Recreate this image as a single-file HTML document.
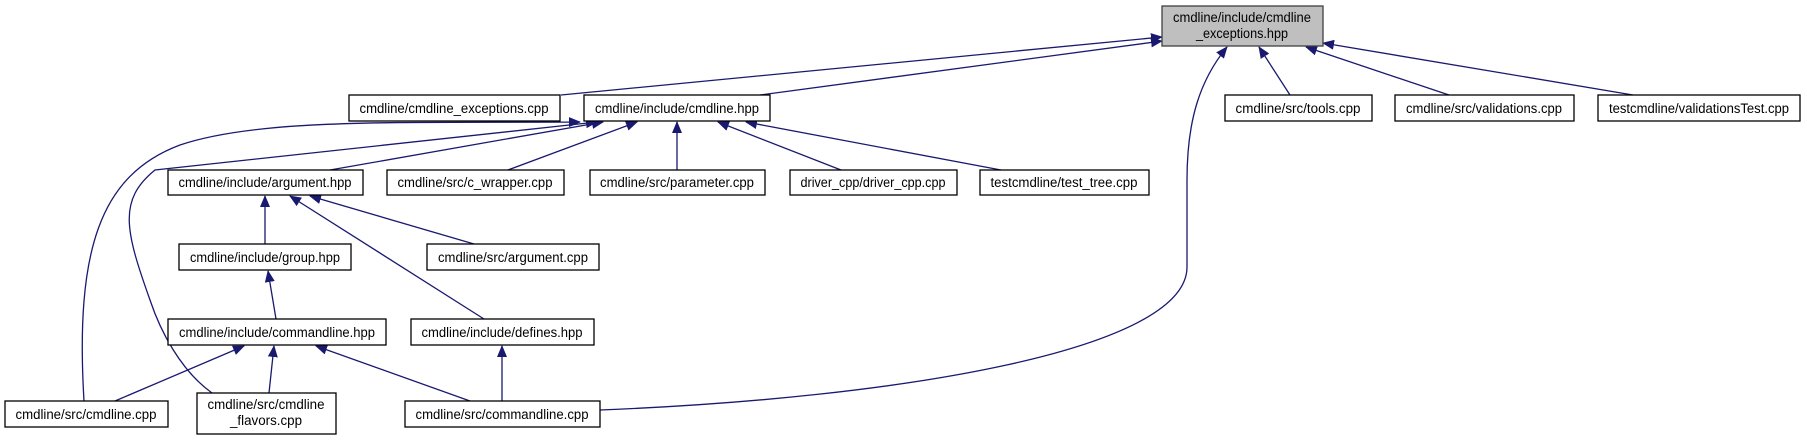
<!DOCTYPE html>
<html><head><meta charset="utf-8"><style>
html,body{margin:0;padding:0;background:#fff;}
svg{display:block;}
text{font-family:"Liberation Sans",Arial,sans-serif;font-size:13.5px;fill:#000;}
</style></head><body>
<svg width="1807" height="440" viewBox="0 0 1807 440" xmlns="http://www.w3.org/2000/svg">
<defs>
<marker id="a" markerWidth="12" markerHeight="10" refX="11" refY="5" orient="auto" markerUnits="userSpaceOnUse">
<path d="M0,0 L12,5 L0,10 z" fill="#191970"/>
</marker>
</defs>
<g fill="none" stroke="#191970" stroke-width="1.3" marker-end="url(#a)">
<path d="M561,95 L1162,37"/>
<path d="M760,95 L1162,41"/>
<path d="M1290,95 L1259,47"/>
<path d="M1449,95 L1306,47"/>
<path d="M1633,95 L1323,43"/>
<path d="M600,410 C900,398 1187,350 1187,267 L1187,180 C1187,120 1200,80 1227,47"/>
<path d="M330,170 L603,122"/>
<path d="M508,170 L637,122"/>
<path d="M677,170 L677,122"/>
<path d="M841,170 L718,122"/>
<path d="M1001,170 L746,122"/>
<path d="M84,401 C75,250 100,175 180,145 C260,118 400,123 580,122"/>
<path d="M212,393 C180,370 160,330 150,300 C125,230 118,200 155,170 L597,122"/>
<path d="M265,244 L265,196"/>
<path d="M484,319 L290,196"/>
<path d="M474,244 L310,196"/>
<path d="M276,319 L268,271"/>
<path d="M115,401 L244,346"/>
<path d="M269,393 L274,346"/>
<path d="M470,401 L316,346"/>
<path d="M502,401 L502,346"/>
</g>
<g stroke="#000" stroke-width="1.3" fill="#fff">
<rect x="1162" y="6" width="161" height="40" fill="#bfbfbf" stroke="#404040"/>
<rect x="349" y="95" width="211" height="26"/>
<rect x="584" y="95" width="186" height="26"/>
<rect x="1225" y="95" width="147" height="26"/>
<rect x="1395" y="95" width="179" height="26"/>
<rect x="1598" y="95" width="202" height="26"/>
<rect x="168" y="170" width="195" height="25"/>
<rect x="387" y="170" width="177" height="25"/>
<rect x="590" y="170" width="175" height="25"/>
<rect x="790" y="170" width="167" height="25"/>
<rect x="980" y="170" width="169" height="25"/>
<rect x="179" y="244" width="172" height="26"/>
<rect x="427" y="244" width="172" height="26"/>
<rect x="168" y="319" width="218" height="26"/>
<rect x="411" y="319" width="183" height="26"/>
<rect x="5" y="401" width="163" height="26"/>
<rect x="197" y="393" width="139" height="41"/>
<rect x="405" y="401" width="195" height="26"/>
</g>
<g text-anchor="middle">
<text x="1242" y="22" textLength="138" lengthAdjust="spacingAndGlyphs">cmdline/include/cmdline</text>
<text x="1242" y="38" textLength="92" lengthAdjust="spacingAndGlyphs">_exceptions.hpp</text>
<text x="454" y="113" textLength="189" lengthAdjust="spacingAndGlyphs">cmdline/cmdline_exceptions.cpp</text>
<text x="677" y="113" textLength="164" lengthAdjust="spacingAndGlyphs">cmdline/include/cmdline.hpp</text>
<text x="1298" y="113" textLength="125" lengthAdjust="spacingAndGlyphs">cmdline/src/tools.cpp</text>
<text x="1484" y="113" textLength="156" lengthAdjust="spacingAndGlyphs">cmdline/src/validations.cpp</text>
<text x="1699" y="113" textLength="180" lengthAdjust="spacingAndGlyphs">testcmdline/validationsTest.cpp</text>
<text x="265" y="187" textLength="173" lengthAdjust="spacingAndGlyphs">cmdline/include/argument.hpp</text>
<text x="475" y="187" textLength="155" lengthAdjust="spacingAndGlyphs">cmdline/src/c_wrapper.cpp</text>
<text x="677" y="187" textLength="154" lengthAdjust="spacingAndGlyphs">cmdline/src/parameter.cpp</text>
<text x="873" y="187" textLength="145" lengthAdjust="spacingAndGlyphs">driver_cpp/driver_cpp.cpp</text>
<text x="1064" y="187" textLength="147" lengthAdjust="spacingAndGlyphs">testcmdline/test_tree.cpp</text>
<text x="265" y="262" textLength="150" lengthAdjust="spacingAndGlyphs">cmdline/include/group.hpp</text>
<text x="513" y="262" textLength="150" lengthAdjust="spacingAndGlyphs">cmdline/src/argument.cpp</text>
<text x="277" y="337" textLength="196" lengthAdjust="spacingAndGlyphs">cmdline/include/commandline.hpp</text>
<text x="502" y="337" textLength="161" lengthAdjust="spacingAndGlyphs">cmdline/include/defines.hpp</text>
<text x="86" y="419" textLength="141" lengthAdjust="spacingAndGlyphs">cmdline/src/cmdline.cpp</text>
<text x="266" y="409" textLength="117" lengthAdjust="spacingAndGlyphs">cmdline/src/cmdline</text>
<text x="266" y="425" textLength="72" lengthAdjust="spacingAndGlyphs">_flavors.cpp</text>
<text x="502" y="419" textLength="173" lengthAdjust="spacingAndGlyphs">cmdline/src/commandline.cpp</text>
</g>
</svg>
</body></html>
